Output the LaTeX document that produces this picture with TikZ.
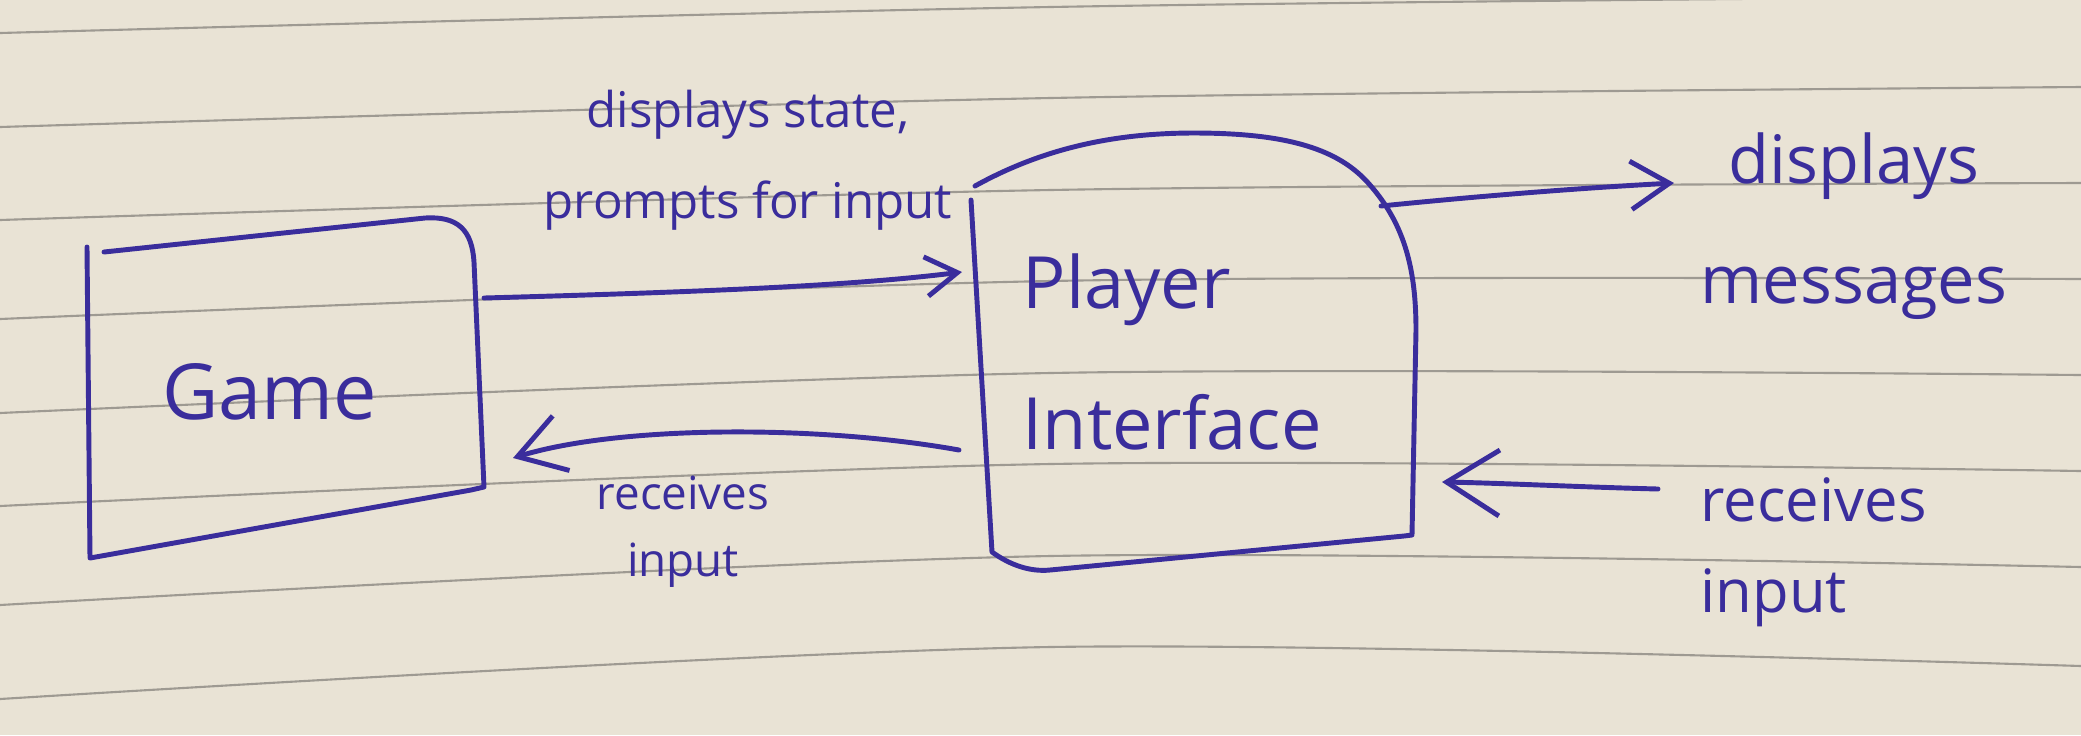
\documentclass[tikz,border=0pt]{standalone}
\usepackage{fontspec}
\setmainfont{Open Sans}
\usetikzlibrary{arrows.meta}
\definecolor{paper}{RGB}{233,227,213}
\definecolor{rulecol}{RGB}{158,154,146}
\definecolor{ink}{RGB}{58,45,156}
\begin{document}
\begin{tikzpicture}[x=0.01cm,y=-0.01cm,
  inkline/.style={draw=ink,line width=1.4pt,line cap=round,line join=round},
  flow/.style={inkline,-{Straight Barb[length=#1,width=1.25*#1,line width=1.4pt]}},
  ruled/.style={draw=rulecol,line width=0.6pt},
  lbl/.style={text=ink,inner sep=0pt,align=center},
  boxtext/.style={text=ink,inner sep=0pt,align=left}
]
\useasboundingbox (0,0) rectangle (2081,735);
\fill[paper] (0,0) rectangle (2081,735);
% ruled paper
\foreach \a/\b/\c in {33/7/-4,127/98/87,220/190/183,319/281/279,413/373/375,506/464/471,605/556/567,699/647/666}
  \draw[ruled] plot[smooth] coordinates {(0,\a) (1050,\b) (2081,\c)};

% Game box outline
\draw[inkline] (87,247) -- (90,558) -- (471,490) -- (484,487) -- (474,262)
  .. controls (472,230) and (458,216) .. (425,218) -- (104,252);
\node[boxtext,font=\fontsize{22}{26}\selectfont] (game) at (270,392) {Game};

% Player Interface outline
\draw[inkline] (971,200) -- (992,552) .. controls (1010,565) and (1030,572) .. (1050,570)
  -- (1404,536) -- (1412,535) -- (1416,330)
  .. controls (1416,270) and (1405,225) .. (1370,185)
  .. controls (1340,150) and (1290,133) .. (1194,133)
  .. controls (1110,133) and (1040,150) .. (975,186);
\node[boxtext,anchor=west,font=\fontsize{20.5}{40}\selectfont] (pi) at (1022,352) {Player\\Interface};

% connector end points
\coordinate (gameOut) at (484,298);
\coordinate (piIn) at (962,272);
\coordinate (piOut) at (959,450);
\coordinate (gameIn) at (513,458);
\coordinate (piRight) at (1381,206);
\coordinate (screen) at (1674,183);
\coordinate (keyboard) at (1658,489);
\coordinate (piRightIn) at (1442,482);

% connectors
\draw[flow=9pt] (gameOut) .. controls (700,292) and (850,286) .. (piIn);
\draw[flow=13pt] (piOut) .. controls (820,425) and (620,425) .. (gameIn);
\draw[flow=11pt] (piRight) .. controls (1480,196) and (1580,188) .. (screen);
\draw[flow=15pt] (keyboard) .. controls (1580,487) and (1500,483) .. (piRightIn);

% labels
\node[lbl,font=\fontsize{14}{26}\selectfont] (lblTop) at (748,160) {displays state,\\prompts for input};
\node[lbl,font=\fontsize{13}{19}\selectfont] (lblMid) at (683,532) {receives\\input};
\node[lbl,font=\fontsize{19}{34}\selectfont] (lblRT) at (1854,226) {displays\\messages};
\node[boxtext,anchor=west,font=\fontsize{17}{26}\selectfont] (lblRB) at (1700,552) {receives\\input};
\end{tikzpicture}
\end{document}
